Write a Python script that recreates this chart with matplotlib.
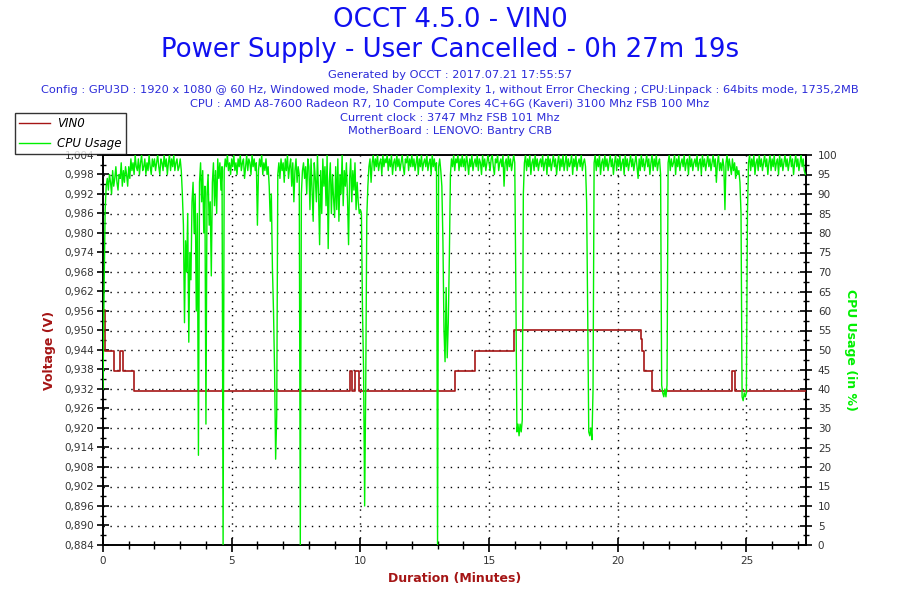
import numpy as np
import matplotlib
matplotlib.use("Agg")
import matplotlib.pyplot as plt
from matplotlib.lines import Line2D
from matplotlib.ticker import MultipleLocator, FixedLocator, FuncFormatter

# ---------------- data ----------------
duration_min = 27 + 19 / 60.0

# VIN0 voltage, step changes (minutes, volts)
volt_t = [0.00, 0.06, 0.43, 0.66, 0.78, 1.20, 9.59, 9.67, 9.81, 9.96,
          13.67, 14.47, 15.96, 20.89, 20.93, 21.02, 21.32, 24.46, 24.57, duration_min]
volt_v = [0.95625, 0.94375, 0.9375, 0.94375, 0.9375, 0.93125, 0.9375, 0.93125, 0.9375, 0.93125,
          0.9375, 0.94375, 0.95, 0.9475, 0.94375, 0.9375, 0.93125, 0.9375, 0.93125, 0.93125]

# CPU usage (%), one sample every 2.5 seconds (24 per minute, one row per minute)
cpu_step_s = 2.5
cpu_v = [
    40, 65, 86, 92, 94, 91, 95, 93, 90, 96, 92, 94, 97, 93, 91, 95, 94, 98, 92, 96, 93, 97, 95, 92,
    97, 94, 99, 96, 98, 95, 100, 97, 96, 99, 95, 98, 100, 96, 97, 99, 95, 98, 96, 100, 97, 95, 99, 97,
    99, 96, 98, 100, 97, 95, 99, 98, 96, 100, 97, 99, 95, 98, 100, 96, 99, 97, 100, 96, 98, 99, 96, 97,
    99, 96, 90, 82, 57, 78, 70, 85, 52, 75, 68, 88, 93, 80, 90, 60, 85, 23, 93, 98, 88, 96, 80, 92,
    31, 90, 95, 82, 88, 69, 93, 98, 87, 96, 85, 99, 94, 98, 91, 97, 0, 96, 99, 97, 100, 96, 98, 95,
    99, 97, 100, 96, 98, 95, 99, 97, 100, 96, 98, 99, 94, 97, 100, 96, 99, 98, 95, 100, 97, 99, 96, 98,
    82, 96, 99, 97, 100, 95, 98, 96, 99, 95, 97, 92, 83, 90, 71, 60, 45, 22, 33, 95, 98, 94, 99, 96,
    98, 93, 99, 96, 100, 94, 97, 99, 92, 98, 88, 96, 99, 93, 97, 95, 0, 90, 96, 98, 94, 97, 90, 99,
    97, 86, 99, 91, 83, 98, 94, 88, 100, 90, 77, 96, 85, 99, 92, 97, 87, 100, 76, 93, 98, 85, 95, 89,
    84, 97, 86, 99, 83, 95, 90, 100, 87, 96, 92, 98, 89, 77, 94, 99, 88, 96, 91, 98, 86, 93, 88, 85,
    86, 85, 60, 45, 10, 40, 84, 92, 97, 99, 93, 98, 100, 96, 99, 97, 100, 96, 98, 99, 95, 100, 97, 99,
    98, 100, 96, 99, 97, 100, 95, 98, 99, 96, 100, 97, 99, 96, 98, 100, 97, 95, 99, 98, 100, 96, 99, 97,
    100, 97, 99, 96, 98, 100, 95, 99, 97, 100, 96, 98, 99, 97, 100, 96, 98, 99, 95, 100, 97, 99, 96, 98,
    0, 97, 99, 96, 92, 78, 55, 47, 66, 48, 57, 74, 95, 99, 97, 100, 96, 99, 98, 100, 96, 99, 97, 100,
    97, 99, 96, 100, 98, 95, 99, 97, 100, 96, 98, 99, 97, 100, 96, 99, 98, 95, 100, 97, 99, 96, 98, 100,
    98, 96, 99, 100, 97, 95, 99, 98, 100, 96, 98, 99, 97, 100, 92, 98, 99, 96, 100, 97, 99, 96, 98, 100,
    98, 66, 29, 31, 28, 31, 29, 32, 90, 98, 100, 96, 99, 97, 100, 95, 98, 99, 96, 100, 97, 99, 96, 98,
    99, 97, 100, 96, 98, 99, 95, 100, 97, 99, 96, 98, 100, 97, 99, 95, 98, 100, 96, 99, 97, 100, 96, 98,
    100, 96, 99, 97, 98, 100, 95, 99, 97, 100, 96, 98, 99, 97, 100, 96, 98, 99, 97, 88, 60, 29, 28, 30,
    27, 40, 98, 100, 96, 99, 97, 100, 95, 98, 99, 96, 100, 97, 99, 96, 98, 100, 97, 99, 95, 98, 100, 96,
    99, 97, 100, 96, 98, 99, 95, 100, 97, 99, 96, 98, 100, 97, 99, 96, 98, 100, 97, 94, 99, 96, 100, 97,
    99, 96, 98, 100, 97, 99, 95, 98, 100, 96, 99, 97, 100, 96, 98, 99, 95, 41, 39, 38, 40, 38, 41, 98,
    100, 96, 99, 97, 98, 100, 95, 99, 97, 100, 96, 98, 99, 97, 100, 96, 98, 99, 95, 100, 97, 99, 96, 98,
    99, 97, 100, 96, 98, 99, 95, 100, 97, 99, 96, 98, 100, 97, 99, 96, 98, 100, 97, 99, 93, 98, 100, 96,
    98, 96, 99, 97, 86, 98, 100, 96, 99, 97, 95, 99, 96, 98, 94, 97, 95, 96, 93, 85, 38, 37, 39, 38,
    39, 85, 98, 100, 96, 99, 97, 100, 95, 98, 99, 96, 100, 97, 99, 96, 98, 100, 97, 99, 95, 98, 100, 96,
    99, 97, 100, 96, 98, 99, 95, 100, 97, 99, 96, 98, 100, 97, 99, 96, 98, 100, 97, 99, 95, 98, 100, 97,
    99, 96, 98, 100, 97, 99, 96, 95, 95,
]
cpu_t = np.arange(len(cpu_v)) * cpu_step_s / 60.0

title_lines = ["OCCT 4.5.0 - VIN0", "Power Supply - User Cancelled - 0h 27m 19s"]
info_lines = [
    "Generated by OCCT : 2017.07.21 17:55:57",
    "Config : GPU3D : 1920 x 1080 @ 60 Hz, Windowed mode, Shader Complexity 1, without Error Checking ; CPU:Linpack : 64bits mode, 1735,2MB",
    "CPU : AMD A8-7600 Radeon R7, 10 Compute Cores 4C+6G (Kaveri) 3100 Mhz FSB 100 Mhz",
    "Current clock : 3747 Mhz FSB 101 Mhz",
    "MotherBoard : LENOVO: Bantry CRB",
]
volt_ticks = np.linspace(0.884, 1.004, 21)
volt_minor = np.linspace(0.887, 1.001, 20)

# ---------------- style ----------------
RED = "#A51515"
GREEN = "#00F000"
BLUE_T = "#1010F0"
BLUE_S = "#2B2BD9"
FACE = "#FDF6E8"
TICKC = "#333333"

plt.rcParams["font.family"] = ["DejaVu Sans"]

fig = plt.figure(figsize=(9, 6), dpi=100, facecolor="white")
W, H = 900.0, 600.0
L, R, T, B = 103, 806, 155, 545
ax = fig.add_axes([L / W, 1 - B / H, (R - L) / W, (B - T) / H])
ax2 = ax.twinx()
ax.set_zorder(ax2.get_zorder() + 1)
ax.patch.set_visible(False)
ax2.patch.set_facecolor(FACE)

# voltage (left axis)
ax.plot(volt_t, volt_v, drawstyle="steps-post", color=RED, lw=1.2, zorder=3)
ax.set_xlim(0, duration_min)
ax.set_ylim(0.884, 1.004)
ax.yaxis.set_major_locator(FixedLocator(volt_ticks))
ax.yaxis.set_minor_locator(FixedLocator(volt_minor))
ax.yaxis.set_major_formatter(FuncFormatter(lambda v, p: f"{v:.3f}".replace(".", ",")))
ax.xaxis.set_major_locator(MultipleLocator(5))
ax.xaxis.set_minor_locator(MultipleLocator(1))

# cpu (right axis scale, drawn above the voltage)
ax2.set_ylim(0, 100)
ax2.yaxis.set_major_locator(MultipleLocator(5))
ax2.yaxis.set_minor_locator(MultipleLocator(2.5))
ax.plot(cpu_t, cpu_v, color=GREEN, lw=1.0, zorder=4, transform=ax2.transData)

# grid (dotted)
for yv in np.arange(5, 100, 5):
    ax2.axhline(yv, color="black", lw=1.0, ls=(0, (1, 4)), zorder=1)
for xv in [5, 10, 15, 20, 25]:
    ax2.axvline(xv, color="black", lw=1.0, ls=(0, (1, 4)), zorder=1)

for a in (ax, ax2):
    for s in a.spines.values():
        s.set_color("black")
        s.set_linewidth(1.2)

ax.tick_params(axis="y", which="major", direction="inout", length=9, width=1.2,
               colors="black", labelcolor=TICKC, labelsize=7.5, pad=2)
ax.tick_params(axis="y", which="minor", direction="inout", length=5, width=1.0, colors="black")
ax.tick_params(axis="x", which="major", direction="inout", length=10, width=1.2,
               colors="black", labelcolor=TICKC, labelsize=7.5, pad=3)
ax.tick_params(axis="x", which="minor", direction="inout", length=6, width=1.0, colors="black")
ax2.tick_params(axis="y", which="major", direction="inout", length=9, width=1.2,
                colors="black", labelcolor=TICKC, labelsize=7.5, pad=4)
ax2.tick_params(axis="y", which="minor", direction="inout", length=5, width=1.0, colors="black")

ax.set_ylabel("Voltage (V)", color=RED, fontsize=9, fontweight="bold", labelpad=6)
ax2.set_ylabel("CPU Usage (in %)", color=GREEN, fontsize=9, fontweight="bold",
               rotation=-90, labelpad=14)
ax.set_xlabel("Duration (Minutes)", color=RED, fontsize=9, fontweight="bold", labelpad=4)

# titles
fig.text(0.5, 1 - 20 / H, title_lines[0], ha="center", va="center", fontsize=18.7, color=BLUE_T)
fig.text(0.5, 1 - 50 / H, title_lines[1], ha="center", va="center", fontsize=18.7, color=BLUE_T)
for yy, line in zip([75, 90, 104, 118, 131], info_lines):
    fig.text(0.5, 1 - yy / H, line, ha="center", va="center", fontsize=8.2, color=BLUE_S)

# legend
handles = [Line2D([], [], color=RED, lw=1.0), Line2D([], [], color=GREEN, lw=1.0)]
leg = fig.legend(handles, ["VIN0", "CPU Usage"], loc="upper left",
                 bbox_to_anchor=(15 / W, 1 - 113 / H), frameon=True, fancybox=False,
                 prop={"size": 8.5, "style": "italic"}, handlelength=2.6, handletextpad=0.6,
                 borderpad=0.35, labelspacing=0.6, borderaxespad=0)
leg.get_frame().set_edgecolor("black")
leg.get_frame().set_linewidth(1.0)

fig.savefig("out.png", dpi=100, facecolor="white")
